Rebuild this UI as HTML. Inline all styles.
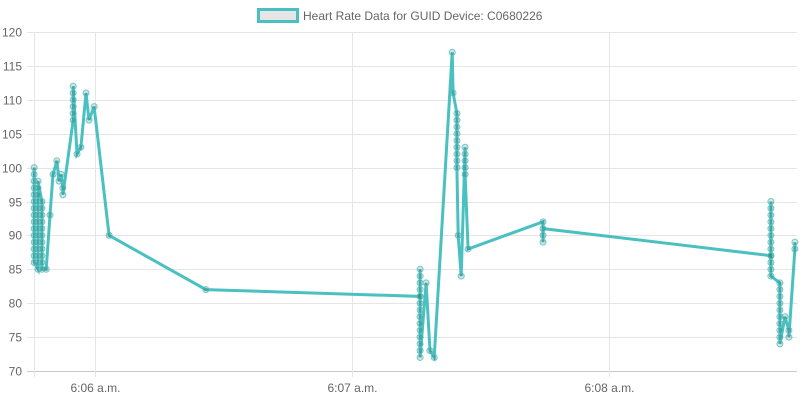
<!DOCTYPE html>
<html><head><meta charset="utf-8">
<style>
html,body{margin:0;padding:0;background:#fff;}
svg{display:block;font-family:"Liberation Sans",sans-serif;}
</style></head>
<body>
<svg id="chart" width="800" height="400">
  <g>
    <rect x="258.5" y="9.5" width="39" height="12" fill="#e6e6e6" stroke="#4bc0c0" stroke-width="3"/>
    <text x="303" y="20" font-size="12" fill="#666">Heart Rate Data for GUID Device: C0680226</text>
  </g>
  <g id="grid"></g>
  <g id="yaxis"></g>
  <g id="xaxis"></g>
  <g id="series"></g>
</svg>
<script>
// seconds after 6:05:00, one entry per reading
const times = [
45.8,45.8,45.8,45.8,45.8, 45.8,45.8,45.8,45.8,45.8, 45.8,45.8,45.8,45.8,45.8,
46.7,46.7,46.7,46.7,46.7, 46.7,46.7,46.7,46.7,46.7, 46.7,46.7,46.7,46.7,
47.6,47.6,47.6,47.6,47.6, 47.6,47.6,47.6,47.6,47.6, 47.6,
48.6,49.5,50.2,51.1, 51.6,52.1,52.5,52.5,
54.9,54.9,54.9,54.9,54.9,54.9,
55.8,56.7,57.9,58.6, 59.8,63.3,85.9,135.9,
135.9,135.9,135.9,135.9,135.9, 135.9,135.9,135.9,135.9,135.9, 135.9,135.9,135.9,135.9,
137.3,138.2,139.2,143.4,143.6,
144.5,144.5,144.5,144.5,144.5, 144.5,144.5,144.5,144.5,
144.8,145.5,
146.4,146.4,146.4,146.4,146.4,
147.1,
164.6,164.6,164.6,164.6,
217.8,
217.8,217.8,217.8,217.8,217.8, 217.8,217.8,217.8,217.8,217.8, 217.8,217.8,
219.9,219.9,219.9,219.9,219.9, 219.9,219.9,219.9,219.9,219.9,
221.1,222.0,222.0,223.4,223.4
];
const heartRates = [
100,99,98,97,96, 95,94,93,92,91, 90,89,88,87,86,
85,86,87,88,89, 90,91,92,93,94, 95,96,97,98,
95,94,93,92,91, 90,89,88,87,86, 85,
85,93,99,101, 98,99,97,96,
107,108,109,110,111,112,
102,103,111,107, 109,90,82,81,
85,84,83,82,81, 80,79,78,77,76, 75,74,73,72,
83,73,72,117,111,
108,107,106,105,104, 103,102,101,100,
90,84,
103,102,101,100,99,
88,
92,90,89,91,
87,
95,94,93,92,91, 90,89,88,87,86, 85,84,
83,82,81,80,79, 78,77,76,75,74,
78,76,75,88,89
];
const yTicks = [70,75,80,85,90,95,100,105,110,115,120];
const xTickTimes = [60,120,180];
const xTickLabels = ["6:06 a.m.","6:07 a.m.","6:08 a.m."];

const L=34, R=797, T=32, B=371, yMin=70, yMax=120;
const xScale = t => 95 + (t-60)*257/60;
const yScale = v => B - (v-yMin)/(yMax-yMin)*(B-T);
const NS="http://www.w3.org/2000/svg";
function mk(tag, attrs, parent){const e=document.createElementNS(NS,tag);for(const k in attrs)e.setAttribute(k,attrs[k]);parent.appendChild(e);return e;}
const grid=document.getElementById('grid'), ya=document.getElementById('yaxis'), xa=document.getElementById('xaxis'), se=document.getElementById('series');

yTicks.forEach(v=>{
  const y=Math.round(yScale(v))+0.5;
  const ln=mk('line',{x1:27,x2:R,y1:y,y2:y,stroke:v===yMin?'#c8c8c8':'#e5e5e5','stroke-width':1},grid);
  
  
  const tx=mk('text',{x:22,y:y+4,'text-anchor':'end','font-size':12,fill:'#666'},ya);
  tx.textContent=v;
  
  
});
const ax=mk('line',{x1:L+0.5,x2:L+0.5,y1:T,y2:B+6,stroke:'#e5e5e5'},grid);


xTickTimes.forEach((t,i)=>{
  const x=Math.round(xScale(t))+0.5;
  const ln=mk('line',{x1:x,x2:x,y1:T,y2:B+6,stroke:'#e5e5e5'},grid);
  
  
  const tx=mk('text',{x:x,y:392,'text-anchor':'middle','font-size':12,fill:'#666'},xa);
  tx.textContent=xTickLabels[i];
  
  
});
const n=Math.min(times.length, heartRates.length);
const pts=[];
for(let i=0;i<n;i++) pts.push(xScale(times[i]).toFixed(1)+','+yScale(heartRates[i]).toFixed(1));
const pl=mk('polyline',{points:pts.join(' '),fill:'none',stroke:'#4bc0c0','stroke-width':3,'stroke-linejoin':'miter'},se);


for(let i=0;i<n;i++){
  const c=mk('circle',{cx:xScale(times[i]),cy:yScale(heartRates[i]),r:3,fill:'rgba(0,0,0,0.12)',stroke:'rgba(75,192,192,0.8)','stroke-width':1},se);
  
  
}
</script>
</body></html>
